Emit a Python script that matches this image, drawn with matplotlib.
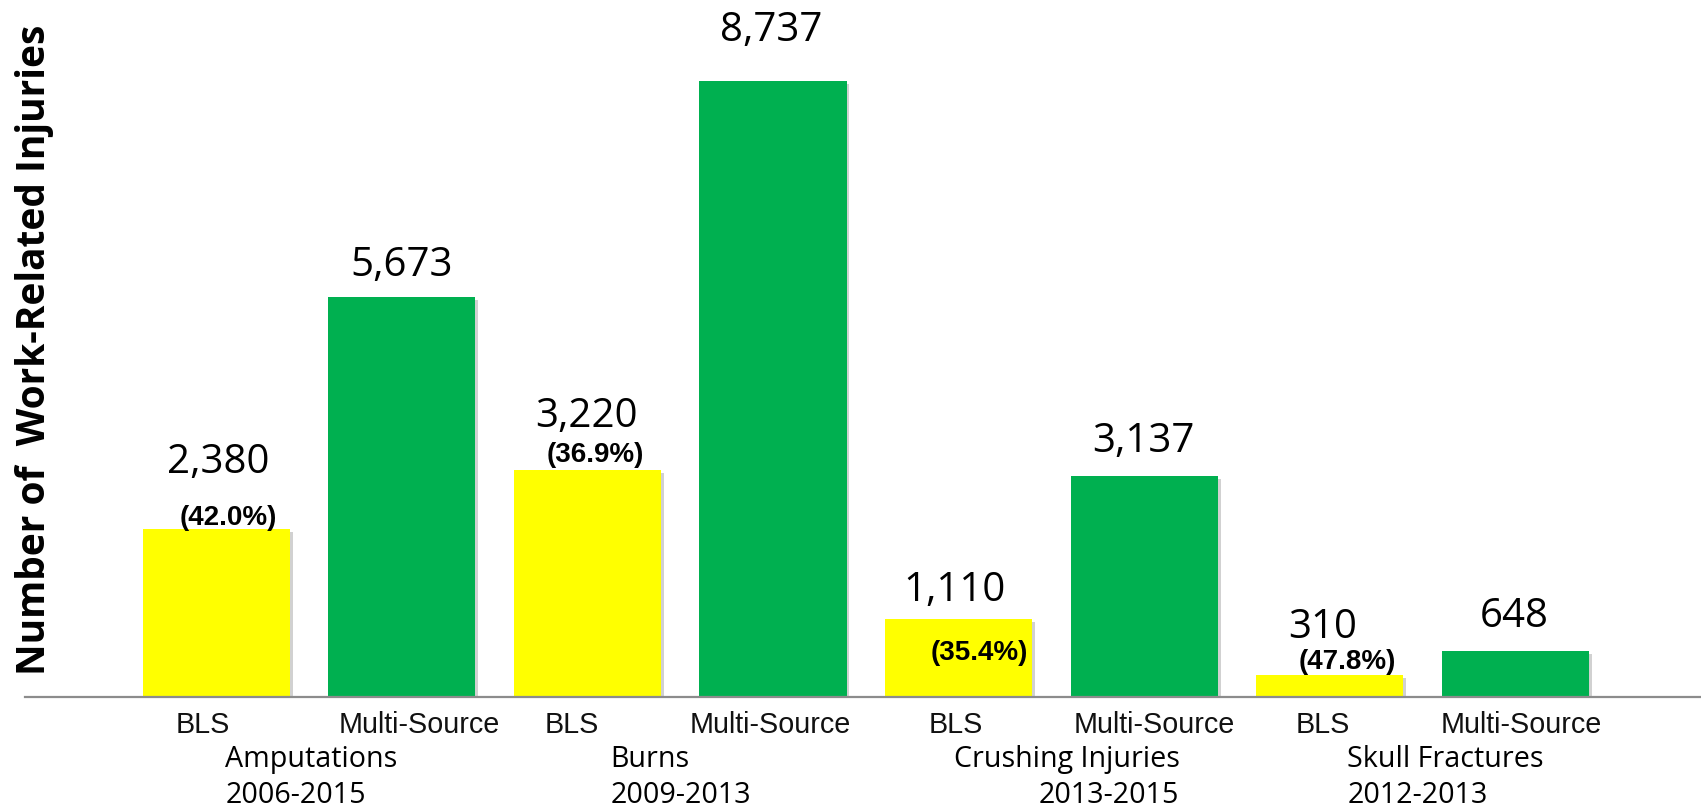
import numpy as np
import matplotlib
matplotlib.use("Agg")
import matplotlib.pyplot as plt
import matplotlib.patheffects as pe
from matplotlib.transforms import ScaledTranslation

# ---------------- data ----------------
injury_types = ["Amputations", "Burns", "Crushing Injuries", "Skull Fractures"]
periods = ["2006-2015", "2009-2013", "2013-2015", "2012-2013"]
sources = ["BLS", "Multi-Source"]
bls_counts = [2380, 3220, 1110, 310]
multi_counts = [5673, 8737, 3137, 648]
bls_pct = [42.0, 36.9, 35.4, 47.8]
y_label = "Number of  Work-Related Injuries"

# ---------------- layout / style ----------------
W, H, DPI = 1701, 808, 100
BASE = 697                      # pixel row of the baseline
YMAX = 9887
YELLOW = "#FFFF00"
GREEN = "#00B050"
NUM_FONT = "Open Sans"
ARIAL = "Liberation Sans"

# per-bar label nudges (pixels): value labels
val_dx = [2, 0, -1, -2, -4, -1, -7, -1]
val_dy = [56, 21, 43, 40, 18, 24, 37, 24]
# percent labels on BLS bars
pct_dx = [12, 8, 21, 18]
pct_dy = [4, 8, -41, 6]
# category tick label nudges
tick_dx = [-13, 17, -16, -3, -3, 10, -7, 6]
# group label anchors (data x) and alignment
grp_x = [0.05, 2.125, 5.19, 6.094]
grp_ha = ["left", "left", "right", "left"]

fig = plt.figure(figsize=(W / DPI, H / DPI), dpi=DPI)
ax = fig.add_axes([25 / W, (H - BASE) / H, (W - 25) / W, BASE / H])

values, colors, labels = [], [], []
for b, m in zip(bls_counts, multi_counts):
    values += [b, m]
    colors += [YELLOW, GREEN]
    labels += sources
x = np.arange(len(values))

bars = ax.bar(x, values, width=0.793, color=colors, edgecolor="none", zorder=2)
for bar in bars:
    bar.set_path_effects([pe.SimplePatchShadow(offset=(2, -2), shadow_rgbFace="black", alpha=0.18),
                          pe.Normal()])

ax.set_xlim(-1.03, 8.0)
ax.set_ylim(0, YMAX)
for s in ["top", "right", "left"]:
    ax.spines[s].set_visible(False)
ax.spines["bottom"].set_color("#8c8c8c")
ax.spines["bottom"].set_linewidth(1.6)
ax.spines["bottom"].set_zorder(3)
ax.set_yticks([])

ax.set_xticks(x, labels)
ax.tick_params(axis="x", length=0, pad=36 * 72 / DPI)
for lbl, dx in zip(ax.get_xticklabels(), tick_dx):
    lbl.set_fontfamily(ARIAL)
    lbl.set_fontsize(20.7)
    lbl.set_color("#111111")
    lbl.set_verticalalignment("baseline")
    lbl.set_transform(lbl.get_transform() + ScaledTranslation(dx / DPI, 0, fig.dpi_scale_trans))

# value labels
for xi, v, dx, dy in zip(x, values, val_dx, val_dy):
    ax.annotate(f"{v:,}", xy=(xi, v), xytext=(dx, dy), textcoords="offset pixels",
                ha="center", va="baseline", fontsize=29, family=NUM_FONT, color="black",
                annotation_clip=False)

# percent labels on BLS bars
for i, (p, dx, dy) in enumerate(zip(bls_pct, pct_dx, pct_dy)):
    ax.annotate(f"({p:.1f}%)", xy=(x[2 * i], bls_counts[i]), xytext=(dx, dy),
                textcoords="offset pixels", ha="center", va="baseline",
                fontsize=20, family=ARIAL, fontweight="bold", color="black",
                annotation_clip=False, zorder=4)

# group labels
for name, per, gx, ha in zip(injury_types, periods, grp_x, grp_ha):
    ax.annotate(name, xy=(gx, 0), xycoords=("data", "axes fraction"),
                xytext=(0, -(767 - BASE)), textcoords="offset pixels",
                ha=ha, va="baseline", fontsize=20.6, family=NUM_FONT, color="black",
                annotation_clip=False)
    ax.annotate(per, xy=(gx, 0), xycoords=("data", "axes fraction"),
                xytext=(0, -(803 - BASE)), textcoords="offset pixels",
                ha=ha, va="baseline", fontsize=20.6, family=NUM_FONT, color="black",
                annotation_clip=False)

# y label, fitted to its length in the reference
yl = fig.text(35 / W, 1 - 350 / H, y_label, rotation=90, ha="center", va="center",
              fontsize=28, family=NUM_FONT, fontweight="bold", color="black")
fig.canvas.draw()
ext = yl.get_window_extent()
yl.set_fontsize(28 * 650 / ext.height)

fig.savefig("out.png", dpi=DPI, facecolor="white")
